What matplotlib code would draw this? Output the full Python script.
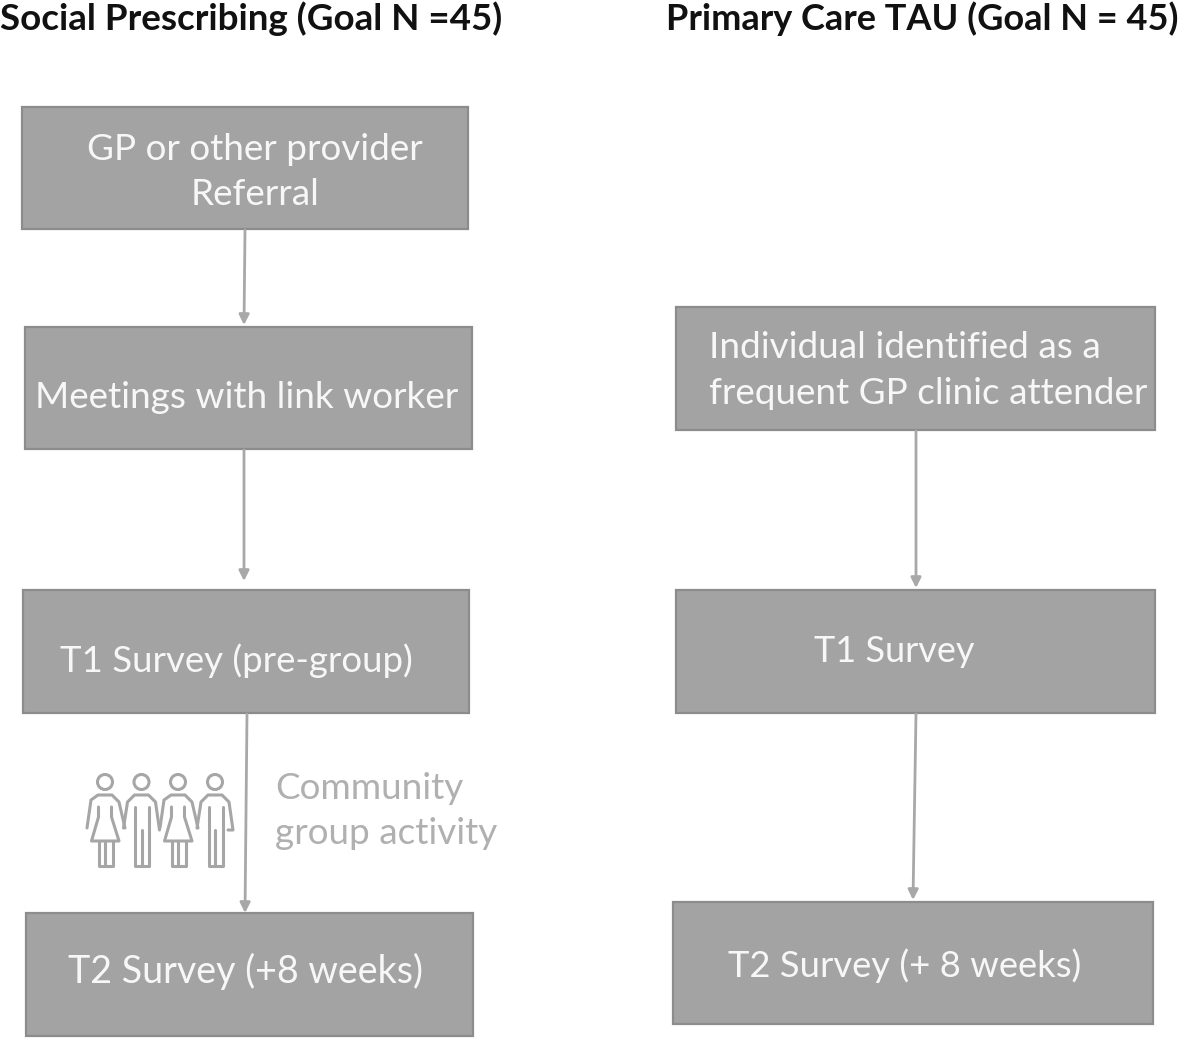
#!/usr/bin/env python3
# -*- coding: utf-8 -*-
import matplotlib.pyplot as plt
from matplotlib.patches import Rectangle, Circle

plt.rcParams['font.family'] = ['Lato', 'DejaVu Sans']

headings = ['Social Prescribing (Goal N =45)', 'Primary Care TAU (Goal N = 45)']
left_labels = ['GP or other provider\nReferral', 'Meetings with link worker',
               'T1 Survey (pre-group)', 'T2 Survey (+8 weeks)']
right_labels = ['Individual identified as a\nfrequent GP clinic attender',
                'T1 Survey', 'T2 Survey (+ 8 weeks)']
activity_label = 'Community\ngroup activity'

# x0, y0, x1, y1 in pixels, text x, text y, alignment, font size
left_boxes = [(22, 107, 468, 229, 255, 172, 'center', 26.6),
              (25, 327, 472, 449, 247, 397, 'center', 26.6),
              (23, 590, 469, 713, 236.5, 661, 'center', 26.4),
              (26, 913, 473, 1036, 246, 971, 'center', 27.1)]
right_boxes = [(675.5, 307, 1155, 430, 709, 370.5, 'left', 26.6),
               (675.5, 590, 1155, 713, 894.5, 651, 'center', 26),
               (673, 902, 1153, 1024, 904.5, 966, 'center', 26.2)]
arrows = [(245, 230, 244, 325), (244, 450, 244, 581), (247, 714, 245, 913),
          (916, 431, 916, 588), (916, 714, 913, 900)]
people_x = [105, 141.5, 178, 215]
people_kind = ['f', 'm', 'f', 'm']

box_col = '#a3a3a3'
edge_col = '#8c8c8c'
line_col = '#a8a8a8'
icon_col = '#a6a6a6'
text_col = '#f7f7f7'
soft_col = '#b0b0b0'


def draw_person(ax, cx, kind, last=False):
    """ one outline figure of the group icon, cx is the middle of the head """
    lw = 2.2
    kw = dict(color=icon_col, lw=lw, solid_capstyle='round', solid_joinstyle='round')
    ax.add_patch(Circle((cx, 782), 7.5, fill=False, ec=icon_col, lw=lw))
    top, bot = 795, 866
    if kind == 'f':
        ax.plot([cx-18, cx-14, cx-7, cx+7, cx+14, cx+20],
                [828, 800, top, top, 802, 828], **kw)
        ax.plot([cx-6.5, cx-6.5, cx-13.5, cx+14, cx+6.5, cx+6.5],
                [807, 817, 841, 841, 817, 807], **kw)
        ax.plot([cx-6.5, cx-6.5, cx+7.5, cx+7.5], [841, bot, bot, 841], **kw)
        ax.plot([cx, cx], [841, bot], **kw)
    else:
        x_out = [cx-18, cx-14, cx-7, cx+7, cx+14, cx+18]
        y_out = [828, 802, top, top, 802, 830]
        if last:
            x_out += [cx+13]
            y_out += [830]
        ax.plot(x_out, y_out, **kw)
        ax.plot([cx-6.5, cx-6.5, cx+7.5, cx+7.5], [807, bot, bot, 807], **kw)
        ax.plot([cx, cx], [830, bot], **kw)


fig = plt.figure(figsize=(11.8, 10.4), dpi=100)
ax = fig.add_axes([0, 0, 1, 1])
ax.set_xlim(0, 1180)
ax.set_ylim(1040, 0)
ax.axis('off')

ax.text(0, 19, headings[0], fontsize=26.5, fontweight='bold', color='#111111',
        ha='left', va='center')
ax.text(666, 19, headings[1], fontsize=26, fontweight='bold', color='#111111',
        ha='left', va='center')

for (x0, y0, x1, y1, tx, ty, ha, size), label in zip(left_boxes + right_boxes,
                                                     left_labels + right_labels):
    ax.add_patch(Rectangle((x0, y0), x1-x0, y1-y0, fc=box_col, ec=edge_col, lw=1.6))
    ax.text(tx, ty, label, fontsize=size, color=text_col, ha=ha, va='center',
            multialignment='center' if ha == 'center' else 'left', linespacing=1.47)

for x0, y0, x1, y1 in arrows:
    ax.annotate('', xy=(x1, y1), xytext=(x0, y0),
                arrowprops=dict(arrowstyle='-|>', color=line_col, lw=2,
                                mutation_scale=15, shrinkA=0, shrinkB=0))

for n, (cx, kind) in enumerate(zip(people_x, people_kind)):
    draw_person(ax, cx, kind, last=n == len(people_x)-1)

ax.text(275, 811, activity_label, fontsize=26.6, color=soft_col, ha='left',
        va='center', linespacing=1.47)

fig.savefig('out.png', dpi=100)
plt.close()
